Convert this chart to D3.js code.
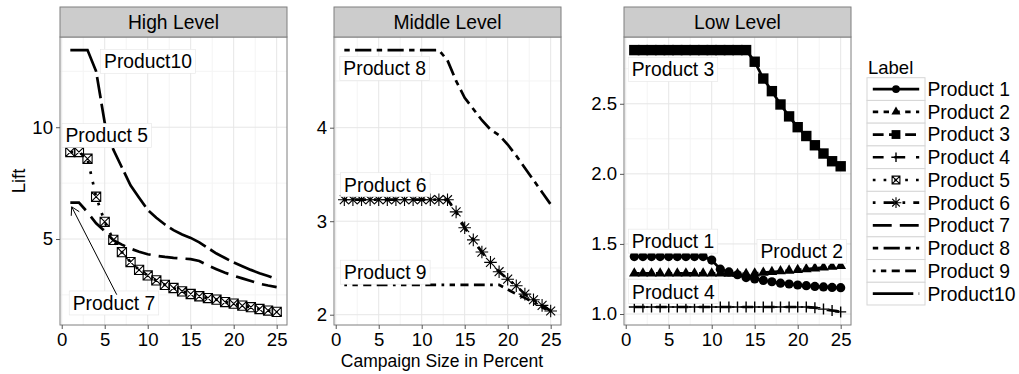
<!DOCTYPE html>
<html>
<head>
<meta charset="utf-8">
<script src="https://cdn.jsdelivr.net/npm/d3@7"></script>
<style>
  body { margin: 0; background: #fff; }
  text { font-family: "Liberation Sans", Arial, Helvetica, sans-serif; }
</style>
</head>
<body>
<svg id="chart"></svg>
<script>
// ---- data ----
const xValues = [1, 2, 3, 4, 5, 6, 7, 8, 9, 10, 11, 12, 13, 14, 15, 16, 17, 18, 19, 20, 21, 22, 23, 24, 25];

const panels = ['High Level', 'Middle Level', 'Low Level'];
const products = ['Product 1', 'Product 2', 'Product 3', 'Product 4', 'Product 5',
  'Product 6', 'Product 7', 'Product 8', 'Product 9', 'Product10'];
const productPanel = [2, 2, 2, 2, 0, 1, 0, 1, 1, 0];

const product1 = [1.41, 1.41, 1.41, 1.41, 1.41, 1.41, 1.41, 1.41, 1.41, 1.385, 1.32, 1.3, 1.28, 1.26, 1.25,
  1.24, 1.23, 1.22, 1.214, 1.207, 1.202, 1.197, 1.193, 1.19, 1.188];
const product2 = [1.29, 1.29, 1.29, 1.29, 1.29, 1.29, 1.29, 1.29, 1.29, 1.29, 1.29, 1.288, 1.286, 1.286, 1.29,
  1.295, 1.3, 1.305, 1.31, 1.315, 1.32, 1.326, 1.332, 1.338, 1.344];
const product3 = [2.883, 2.883, 2.883, 2.883, 2.883, 2.883, 2.883, 2.883, 2.883, 2.883, 2.883, 2.883, 2.883, 2.883,
  2.8, 2.68, 2.59, 2.495, 2.41, 2.333, 2.27, 2.204, 2.145, 2.09, 2.054];
const product4 = [1.05, 1.05, 1.05, 1.05, 1.05, 1.05, 1.05, 1.05, 1.05, 1.05, 1.05, 1.05, 1.05, 1.05, 1.05,
  1.05, 1.05, 1.05, 1.05, 1.05, 1.05, 1.045, 1.035, 1.025, 1.015];
const product5 = [8.89, 8.89, 8.59, 6.89, 5.77, 4.96, 4.41, 3.97, 3.62, 3.37, 3.15, 2.95, 2.81, 2.66, 2.54,
  2.44, 2.36, 2.29, 2.18, 2.11, 2.02, 1.95, 1.87, 1.8, 1.74];
const product6 = [3.23, 3.23, 3.23, 3.23, 3.23, 3.23, 3.23, 3.23, 3.23, 3.23, 3.23, 3.23, 3.23,
  3.1, 2.93, 2.8, 2.67, 2.56, 2.46, 2.38, 2.31, 2.22, 2.16, 2.1, 2.04];
const product7 = [6.63, 6.63, 6.2, 5.7, 5.35, 4.95, 4.75, 4.57, 4.43, 4.32, 4.25, 4.2, 4.16, 4.13, 4.1,
  4.02, 3.82, 3.65, 3.49, 3.36, 3.24, 3.12, 3.0, 2.92, 2.85];
const product8 = [4.83, 4.83, 4.83, 4.83, 4.83, 4.83, 4.83, 4.83, 4.83, 4.83, 4.83, 4.83,
  4.72, 4.5, 4.32, 4.2, 4.08, 3.98, 3.92, 3.82, 3.7, 3.57, 3.44, 3.31, 3.18];
const product9 = [2.32, 2.32, 2.32, 2.32, 2.32, 2.32, 2.32, 2.32, 2.32, 2.32, 2.32, 2.32, 2.32, 2.32, 2.32,
  2.32, 2.32, 2.32, 2.32, 2.27, 2.22, 2.18, 2.13, 2.08, 2.03];
const product10 = [13.45, 13.45, 13.45, 12.5, 10.2, 9.0, 8.2, 7.4, 6.85, 6.3, 5.95, 5.65, 5.4, 5.2, 5.05,
  4.85, 4.6, 4.35, 4.15, 3.95, 3.78, 3.62, 3.47, 3.35, 3.2];

const series = [product1, product2, product3, product4, product5,
  product6, product7, product8, product9, product10];

const xTicks = [0, 5, 10, 15, 20, 25];
const yTicks = [[5, 10], [2, 3, 4], [1.0, 1.5, 2.0, 2.5]];
const yTickLabels = [['5', '10'], ['2', '3', '4'], ['1.0', '1.5', '2.0', '2.5']];

// text labels inside panels: [panel, text, x, y] (x = left edge of text, y = middle)
const labelSpots = [
  [0, 'Product10', 4.92, 12.95],
  [0, 'Product 5', 0.44, 9.63],
  [0, 'Product 7', 1.28, 2.14],
  [1, 'Product 8', 0.89, 4.635],
  [1, 'Product 6', 0.97, 3.39],
  [1, 'Product 9', 0.97, 2.455],
  [2, 'Product 3', 0.7, 2.745],
  [2, 'Product 1', 0.7, 1.52],
  [2, 'Product 2', 15.67, 1.447],
  [2, 'Product 4', 0.74, 1.16]
];
// arrow from the "Product 7" label to its line: [x1, y1, x2, y2]
const arrowSpot = [6.4, 2.51, 1.16, 6.44];

// ---- layout ----
const W = 1019, H = 374;
const lw = 2.7;
const panelX = [[60, 287], [334, 561], [624, 851]];
const stripTop = 7, plotTop = 37, plotBottom = 325;
const linetypes = ['solid', '22', '42', '44', '13', '1343', '73', '2262', '12223242', 'F282'];
const shapes = ['circle', 'triangle', 'square', 'plus', 'boxcross', 'asterisk', null, null, null, null];

const svg = d3.select('#chart').attr('width', W).attr('height', H);

function dashes(code) {
  if (code === 'solid') return null;
  return code.split('').map(c => parseInt(c, 16) * lw).join(',');
}

function shapePath(shape, k) {
  if (shape === 'circle') {
    const r = 4.6 * k;
    return `M${-r},0A${r},${r} 0 1,0 ${r},0A${r},${r} 0 1,0 ${-r},0Z`;
  }
  if (shape === 'triangle') {
    const r = 6.2 * k;
    return `M0,${-r}L${r * 0.866},${r / 2}L${-r * 0.866},${r / 2}Z`;
  }
  if (shape === 'square') {
    const h = 5.2 * k;
    return `M${-h},${-h}H${h}V${h}H${-h}Z`;
  }
  if (shape === 'plus') {
    const h = 5.5 * k;
    return `M${-h},0H${h}M0,${-h}V${h}`;
  }
  if (shape === 'boxcross') {
    const h = 4.6 * k;
    return `M${-h},${-h}H${h}V${h}H${-h}ZM${-h},${-h}L${h},${h}M${-h},${h}L${h},${-h}`;
  }
  if (shape === 'asterisk') {
    const h = 6.3 * k, d = h * 0.707;
    return `M${-h},0H${h}M0,${-h}V${h}M${-d},${-d}L${d},${d}M${-d},${d}L${d},${-d}`;
  }
  return '';
}

function drawShape(g, shape, k) {
  const filled = shape === 'circle' || shape === 'triangle' || shape === 'square';
  g.append('path')
    .attr('d', shapePath(shape, k))
    .attr('fill', filled ? '#000' : 'none')
    .attr('stroke', filled ? 'none' : '#000')
    .attr('stroke-width', shape === 'plus' ? 1.4 : 1.1);
}

const xDomain = d3.extent(xValues);
const xPad = (xDomain[1] - xDomain[0]) * 0.05;

panels.forEach((name, p) => {
  const [x0, x1] = panelX[p];
  const members = products.map((d, i) => i).filter(i => productPanel[i] === p);
  const allY = members.flatMap(i => series[i]);
  const yExt = d3.extent(allY);
  const yPad = (yExt[1] - yExt[0]) * 0.05;

  const x = d3.scaleLinear().domain([xDomain[0] - xPad, xDomain[1] + xPad]).range([x0, x1]);
  const y = d3.scaleLinear().domain([yExt[0] - yPad, yExt[1] + yPad]).range([plotBottom, plotTop]);

  const g = svg.append('g');

  // grid
  const xMinor = xTicks.map(t => t + 2.5).filter(t => t > x.domain()[0] && t < x.domain()[1]);
  const yt = yTicks[p], step = yt[1] - yt[0];
  const yMinor = [yt[0] - step / 2].concat(yt.map(t => t + step / 2))
    .filter(t => t > y.domain()[0] && t < y.domain()[1]);

  g.selectAll('.xminor').data(xMinor).enter().append('line')
    .attr('x1', d => x(d)).attr('x2', d => x(d)).attr('y1', plotTop).attr('y2', plotBottom)
    .attr('stroke', '#f4f4f4').attr('stroke-width', 1);
  g.selectAll('.yminor').data(yMinor).enter().append('line')
    .attr('x1', x0).attr('x2', x1).attr('y1', d => y(d)).attr('y2', d => y(d))
    .attr('stroke', '#f4f4f4').attr('stroke-width', 1);
  g.selectAll('.xmajor').data(xTicks).enter().append('line')
    .attr('x1', d => x(d)).attr('x2', d => x(d)).attr('y1', plotTop).attr('y2', plotBottom)
    .attr('stroke', '#e6e6e6').attr('stroke-width', 1);
  g.selectAll('.ymajor').data(yt).enter().append('line')
    .attr('x1', x0).attr('x2', x1).attr('y1', d => y(d)).attr('y2', d => y(d))
    .attr('stroke', '#e6e6e6').attr('stroke-width', 1);

  // lines
  const line = d3.line().x((d, i) => x(xValues[i])).y(d => y(d));
  members.forEach(i => {
    g.append('path')
      .attr('d', line(series[i]))
      .attr('fill', 'none')
      .attr('stroke', '#000')
      .attr('stroke-width', lw)
      .attr('stroke-dasharray', dashes(linetypes[i]));
  });

  // points
  members.forEach(i => {
    if (!shapes[i]) return;
    series[i].forEach((v, j) => {
      const pg = g.append('g').attr('transform', `translate(${x(xValues[j])},${y(v)})`);
      drawShape(pg, shapes[i], 1);
    });
  });

  // labels with white boxes
  labelSpots.filter(d => d[0] === p).forEach(d => {
    const lg = g.append('g');
    const rect = lg.append('rect');
    const t = lg.append('text')
      .attr('x', x(d[2]))
      .attr('y', y(d[3]))
      .attr('dy', '0.36em')
      .attr('font-size', '19.3px')
      .text(d[1]);
    const bb = t.node().getBBox();
    rect.attr('x', bb.x - 3.5).attr('y', y(d[3]) - 12)
      .attr('width', bb.width + 7).attr('height', 24)
      .attr('fill', '#fff').attr('stroke', '#e4e4e4').attr('stroke-width', 0.6);
  });

  if (p === 0) {
    const ax1 = x(arrowSpot[0]), ay1 = y(arrowSpot[1]), ax2 = x(arrowSpot[2]), ay2 = y(arrowSpot[3]);
    g.append('line')
      .attr('x1', ax1).attr('y1', ay1).attr('x2', ax2).attr('y2', ay2)
      .attr('stroke', '#000').attr('stroke-width', 1);
    const ang = Math.atan2(ay2 - ay1, ax2 - ax1), len = 9, spread = Math.PI / 6;
    g.append('path')
      .attr('d', `M${ax2 - len * Math.cos(ang - spread)},${ay2 - len * Math.sin(ang - spread)}` +
        `L${ax2},${ay2}L${ax2 - len * Math.cos(ang + spread)},${ay2 - len * Math.sin(ang + spread)}`)
      .attr('fill', 'none').attr('stroke', '#000').attr('stroke-width', 1);
  }

  // panel border
  g.append('rect')
    .attr('x', x0).attr('y', plotTop).attr('width', x1 - x0).attr('height', plotBottom - plotTop)
    .attr('fill', 'none').attr('stroke', '#7f7f7f').attr('stroke-width', 1);

  // strip
  g.append('rect')
    .attr('x', x0).attr('y', stripTop).attr('width', x1 - x0).attr('height', plotTop - stripTop)
    .attr('fill', '#cccccc').attr('stroke', '#7f7f7f').attr('stroke-width', 1);
  g.append('text')
    .attr('x', (x0 + x1) / 2).attr('y', (stripTop + plotTop) / 2)
    .attr('dy', '0.36em').attr('text-anchor', 'middle')
    .attr('font-size', '19.3px')
    .text(name);

  // axes
  const xAxis = g.append('g')
    .attr('transform', `translate(0,${plotBottom})`)
    .call(d3.axisBottom(x).tickValues(xTicks).tickSize(4).tickPadding(4).tickFormat(d3.format('d')));
  const yAxis = g.append('g')
    .attr('transform', `translate(${x0},0)`)
    .call(d3.axisLeft(y).tickValues(yt).tickSize(4).tickPadding(3)
      .tickFormat((d, i) => yTickLabels[p][i]));
  [xAxis, yAxis].forEach(a => {
    a.select('.domain').remove();
    a.selectAll('line').attr('stroke', '#555');
    a.selectAll('text').attr('font-size', '18.6px').attr('fill', '#000')
      .attr('font-family', '"Liberation Sans", Arial, Helvetica, sans-serif');
  });
});

// axis titles
svg.append('text')
  .attr('x', 442).attr('y', 366.5)
  .attr('text-anchor', 'middle')
  .attr('font-size', '17.5px')
  .text('Campaign Size in Percent');
svg.append('text')
  .attr('transform', `translate(24.5,${(plotTop + plotBottom) / 2}) rotate(-90)`)
  .attr('text-anchor', 'middle')
  .attr('font-size', '18.5px')
  .text('Lift');

// legend
const legX = 867, legTop = 77.7, keyW = 58, keyH = 22.73;
svg.append('text')
  .attr('x', 868).attr('y', 67).attr('dy', '0.36em')
  .attr('font-size', '18.5px')
  .text('Label');

const key = svg.append('g');
const keyItem = key.selectAll('g')
  .data(products)
  .enter().append('g')
  .attr('transform', (d, i) => `translate(${legX},${legTop + i * keyH})`);

keyItem.append('rect')
  .attr('width', keyW).attr('height', keyH)
  .attr('fill', '#fff').attr('stroke', '#d6d6d6').attr('stroke-width', 1);

keyItem.append('line')
  .attr('x1', keyW * 0.1).attr('x2', keyW * 0.9)
  .attr('y1', keyH / 2).attr('y2', keyH / 2)
  .attr('stroke', '#000').attr('stroke-width', lw)
  .attr('stroke-dasharray', (d, i) => dashes(linetypes[i]));

keyItem.each(function (d, i) {
  if (!shapes[i]) return;
  const pg = d3.select(this).append('g').attr('transform', `translate(${keyW / 2},${keyH / 2})`);
  drawShape(pg, shapes[i], 0.85);
});

keyItem.append('text')
  .attr('x', keyW + 2.5).attr('y', keyH / 2).attr('dy', '0.36em')
  .attr('font-size', '19.3px')
  .text(d => d);
</script>
</body>
</html>
